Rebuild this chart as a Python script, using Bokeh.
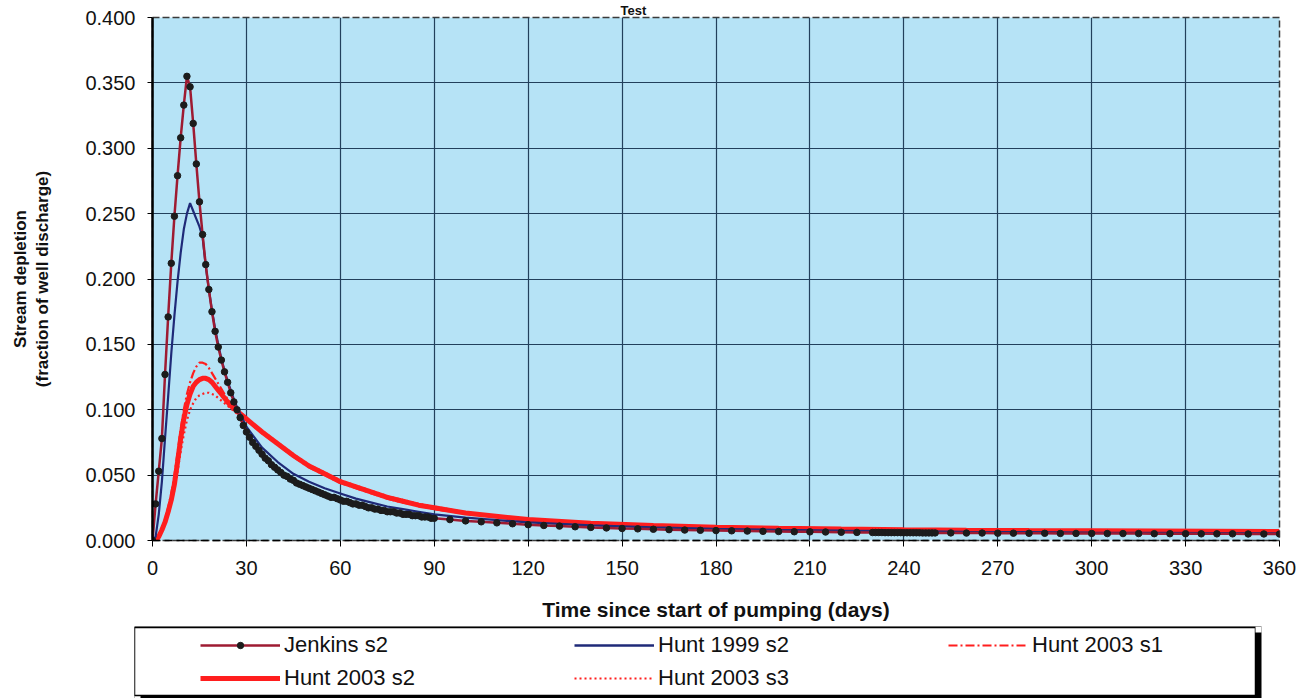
from bokeh.plotting import figure
from bokeh.models import (Range1d, FixedTicker, NumeralTickFormatter,
                          Legend, LegendItem, BoxAnnotation)
from bokeh.layouts import column
from bokeh.embed import file_html
from bokeh.resources import INLINE

# ---------------- data ----------------
x_ticks = [0, 30, 60, 90, 120, 150, 180, 210, 240, 270, 300, 330, 360]
y_ticks = [0.0, 0.05, 0.10, 0.15, 0.20, 0.25, 0.30, 0.35, 0.40]

jenkins_days = (list(range(0, 91)) + list(range(95, 230, 5))
                + list(range(230, 251)) + list(range(255, 361, 5)))
jenkins_s2 = [
    0.000, 0.028, 0.053, 0.078, 0.127, 0.171, 0.212, 0.248, 0.279, 0.308,
    0.333, 0.355, 0.347, 0.319, 0.288, 0.259, 0.234, 0.211, 0.192, 0.175,
    0.160, 0.148, 0.138, 0.129, 0.121, 0.113, 0.106, 0.100, 0.094, 0.088,
    0.083, 0.079, 0.075, 0.072, 0.069, 0.066, 0.063, 0.061, 0.058, 0.056,
    0.054, 0.052, 0.050, 0.049, 0.047, 0.046, 0.044, 0.043, 0.042, 0.041,
    0.040, 0.039, 0.038, 0.037, 0.036, 0.035, 0.034, 0.033, 0.033, 0.032,
    0.031, 0.030, 0.030, 0.029, 0.028, 0.028, 0.027, 0.027, 0.026, 0.025,
    0.025, 0.024, 0.024, 0.023, 0.023, 0.022, 0.022, 0.022, 0.021, 0.021,
    0.020, 0.020, 0.020, 0.019, 0.019, 0.019, 0.018, 0.018, 0.018, 0.017, 0.017,
    # 95 .. 225 every 5 days
    0.0160, 0.0150, 0.0143, 0.0135, 0.0128, 0.0121, 0.0115, 0.0110, 0.0105,
    0.0100, 0.0096, 0.0092, 0.0089, 0.0086, 0.0083, 0.0080, 0.0078, 0.0076,
    0.0074, 0.0072, 0.0070, 0.0069, 0.0067, 0.0066, 0.0065, 0.0063, 0.0062,
    # 230 .. 250 daily
    0.0061, 0.0061, 0.0061, 0.0061, 0.0060, 0.0060, 0.0060, 0.0060, 0.0060,
    0.0060, 0.0059, 0.0059, 0.0059, 0.0059, 0.0059, 0.0059, 0.0058, 0.0058,
    0.0058, 0.0058, 0.0058,
    # 255 .. 360 every 5 days
    0.0058, 0.0057, 0.0057, 0.0056, 0.0056, 0.0055, 0.0055, 0.0054, 0.0054,
    0.0054, 0.0053, 0.0053, 0.0053, 0.0052, 0.0052, 0.0052, 0.0051, 0.0051,
    0.0051, 0.0050, 0.0050, 0.0050,
]

hunt_days = list(range(0, 31)) + list(range(35, 91, 5)) + list(range(100, 361, 20))
hunt1999_s2 = [
    0.000, 0.003, 0.020, 0.045, 0.078, 0.110, 0.143, 0.172, 0.198, 0.220,
    0.238, 0.250, 0.258, 0.252, 0.246, 0.240, 0.232, 0.210, 0.192, 0.176,
    0.162, 0.150, 0.139, 0.130, 0.122, 0.115, 0.108, 0.102, 0.097, 0.092, 0.087,
    0.071, 0.060, 0.051, 0.045, 0.040, 0.036, 0.032, 0.029, 0.026, 0.024, 0.022, 0.020,
    0.0175, 0.0138, 0.0115, 0.0100, 0.0090, 0.0082, 0.0076, 0.0071, 0.0067,
    0.0064, 0.0061, 0.0059, 0.0057, 0.0055,
]
hunt2003_s1 = [
    0.000, 0.000, 0.004, 0.009, 0.016, 0.025, 0.036, 0.050, 0.067, 0.085,
    0.100, 0.112, 0.121, 0.128, 0.133, 0.136, 0.136, 0.135, 0.132, 0.128,
    0.124, 0.120, 0.116, 0.112, 0.108, 0.105, 0.102, 0.099, 0.097, 0.094, 0.092,
    0.082, 0.073, 0.064, 0.056, 0.050, 0.044, 0.040, 0.036, 0.032, 0.029, 0.027, 0.024,
    0.0205, 0.0157, 0.0130, 0.0113, 0.0100, 0.0092, 0.0086, 0.0082, 0.0078,
    0.0075, 0.0073, 0.0071, 0.0069, 0.0067,
]
hunt2003_s2 = [
    0.000, 0.000, 0.003, 0.008, 0.014, 0.022, 0.031, 0.043, 0.060, 0.078,
    0.093, 0.104, 0.112, 0.118, 0.121, 0.123, 0.124, 0.124, 0.123, 0.121,
    0.118, 0.115, 0.112, 0.109, 0.106, 0.103, 0.101, 0.099, 0.097, 0.095, 0.093,
    0.083, 0.074, 0.065, 0.057, 0.051, 0.045, 0.041, 0.037, 0.033, 0.030, 0.027, 0.025,
    0.0210, 0.0160, 0.0132, 0.0115, 0.0102, 0.0094, 0.0088, 0.0083, 0.0079,
    0.0076, 0.0074, 0.0072, 0.0070, 0.0068,
]
hunt2003_s3 = [
    0.000, 0.000, 0.003, 0.007, 0.013, 0.020, 0.028, 0.039, 0.053, 0.068,
    0.081, 0.092, 0.100, 0.105, 0.109, 0.111, 0.112, 0.113, 0.113, 0.112,
    0.111, 0.109, 0.107, 0.105, 0.103, 0.101, 0.099, 0.097, 0.096, 0.094, 0.093,
    0.084, 0.075, 0.066, 0.058, 0.052, 0.046, 0.042, 0.038, 0.034, 0.031, 0.028, 0.026,
    0.0215, 0.0163, 0.0135, 0.0117, 0.0104, 0.0096, 0.0090, 0.0085, 0.0081,
    0.0078, 0.0075, 0.0073, 0.0071, 0.0069,
]

series_labels = ["Jenkins s2", "Hunt 1999 s2", "Hunt 2003 s1", "Hunt 2003 s2", "Hunt 2003 s3"]
chart_title = "Test"

# ---------------- styles ----------------
FONT = "Liberation Sans"
JEN_C = "#9E1B32"
BLUE_C = "#1F2A78"
RED_C = "#FF1E1E"
S1_DASH = "9 3 2 3"
S3_DASH = "2 3"

p = figure(width=1300, height=626, x_range=Range1d(0, 360), y_range=Range1d(0, 0.4),
           output_backend="svg", toolbar_location=None, title=chart_title,
           min_border_left=152, min_border_right=21, min_border_top=17, min_border_bottom=86)
p.frame_align = False
p.title.align = "left"
p.title.offset = 468
p.title.standoff = 0
p.title.text_font = FONT
p.title.text_font_size = "13px"
p.title.text_font_style = "bold"
p.title.text_color = "#111111"
p.background_fill_color = "#B6E3F6"
p.border_fill_color = "white"
p.outline_line_color = "#3a3a3a"
p.outline_line_dash = "7 3"
p.outline_line_width = 1.5

for ax in (p.xaxis[0], p.yaxis[0]):
    ax.major_label_text_font = FONT
    ax.major_label_text_font_size = "20px"
    ax.major_label_text_color = "#111111"
    ax.axis_label_text_font = FONT
    ax.axis_label_text_font_style = "bold"
    ax.axis_label_text_color = "#111111"
    ax.minor_tick_line_color = None
    ax.major_tick_in = 0
    ax.major_tick_line_color = "black"

p.xaxis.ticker = FixedTicker(ticks=x_ticks)
p.yaxis.ticker = FixedTicker(ticks=y_ticks)
p.yaxis.formatter = NumeralTickFormatter(format="0.000")
p.xaxis.axis_label = "Time since start of pumping (days)"
p.yaxis.axis_label = "Stream depletion\n(fraction of well discharge)"
p.xaxis.axis_label_text_font_size = "21px"
p.yaxis.axis_label_text_font_size = "17px"
p.xaxis.major_tick_out = 6
p.yaxis.major_tick_out = 5
p.xaxis.major_label_standoff = 14
p.yaxis.major_label_standoff = 12
p.xaxis.axis_label_standoff = 20
p.yaxis.axis_label_standoff = 30
p.xaxis.axis_line_color = "black"
p.xaxis.axis_line_dash = "8 4"
p.xaxis.axis_line_width = 1.5
p.yaxis.axis_line_color = "black"
p.yaxis.axis_line_width = 2.5

p.xgrid.ticker = FixedTicker(ticks=x_ticks)
p.ygrid.ticker = FixedTicker(ticks=y_ticks)
p.grid.grid_line_color = "#22405C"
p.grid.grid_line_width = 1.2
p.grid.grid_line_alpha = 1.0

# ---------------- series ----------------
p.line(hunt_days, hunt2003_s3, line_color=RED_C, line_width=2.2, line_dash=S3_DASH)
p.line(hunt_days, hunt2003_s1, line_color=RED_C, line_width=2.2, line_dash=S1_DASH)
p.line(hunt_days, hunt2003_s2, line_color=RED_C, line_width=5)
p.line(hunt_days, hunt1999_s2, line_color=BLUE_C, line_width=2.2)
p.line(jenkins_days, jenkins_s2, line_color=JEN_C, line_width=2.5)
p.scatter(jenkins_days, jenkins_s2, size=6.5, marker="circle",
          fill_color="#1c1c1c", line_color="#1c1c1c")

# ---------------- legend panel below the chart ----------------
# Same series, drawn in a panel whose visible range excludes them, so the
# legend can show each series' style.
p2 = figure(width=1300, height=72, x_range=Range1d(-20, -10), y_range=Range1d(-1, 0),
            output_backend="svg", toolbar_location=None,
            min_border_left=134, min_border_right=39, min_border_top=0, min_border_bottom=0,
            x_axis_location=None, y_axis_location=None)
p2.frame_align = False
p2.grid.visible = False
p2.background_fill_color = "black"
p2.border_fill_color = "white"
p2.outline_line_color = None

cu = dict(left_units="canvas", right_units="canvas", top_units="canvas", bottom_units="canvas")
p2.add_layout(BoxAnnotation(left=134, right=1255, top=1, bottom=69,
                            fill_color="white", fill_alpha=1.0,
                            line_color="black", line_width=1.5, line_alpha=1.0, **cu))
p2.add_layout(BoxAnnotation(left=1255, right=1262, top=0, bottom=6,
                            fill_color="white", fill_alpha=1.0, line_alpha=0, **cu))
p2.add_layout(BoxAnnotation(left=133, right=140, top=69.75, bottom=73,
                            fill_color="white", fill_alpha=1.0, line_alpha=0, **cu))

g_jl = p2.line(jenkins_days, jenkins_s2, line_color=JEN_C, line_width=2.5)
g_js = p2.scatter(jenkins_days, jenkins_s2, size=6, marker="circle",
                  fill_color="#1c1c1c", line_color="#1c1c1c")
g_b = p2.line(hunt_days, hunt1999_s2, line_color=BLUE_C, line_width=2.5)
g_s1 = p2.line(hunt_days, hunt2003_s1, line_color=RED_C, line_width=2.2, line_dash=S1_DASH)
g_s2 = p2.line(hunt_days, hunt2003_s2, line_color=RED_C, line_width=5)
g_s3 = p2.line(hunt_days, hunt2003_s3, line_color=RED_C, line_width=2.2, line_dash=S3_DASH)

legend = Legend(items=[
    LegendItem(label=series_labels[0], renderers=[g_jl, g_js]),
    LegendItem(label=series_labels[1], renderers=[g_b]),
    LegendItem(label=series_labels[2], renderers=[g_s1]),
    LegendItem(label=series_labels[3], renderers=[g_s2]),
    LegendItem(label=series_labels[4], renderers=[g_s3]),
], location=(66, 7), orientation="horizontal", ncols=3)
legend.padding = 0
legend.margin = 0
legend.spacing = 7
legend.glyph_width = 80
legend.glyph_height = 16
legend.label_height = 16
legend.label_width = 283
legend.label_standoff = 4
legend.label_text_font = FONT
legend.label_text_font_size = "22px"
legend.label_text_color = "#111111"
legend.border_line_alpha = 0
legend.background_fill_alpha = 0
p2.add_layout(legend, "center")

layout = column(p, p2, spacing=0)
open("out.html", "w").write(file_html(layout, INLINE))
